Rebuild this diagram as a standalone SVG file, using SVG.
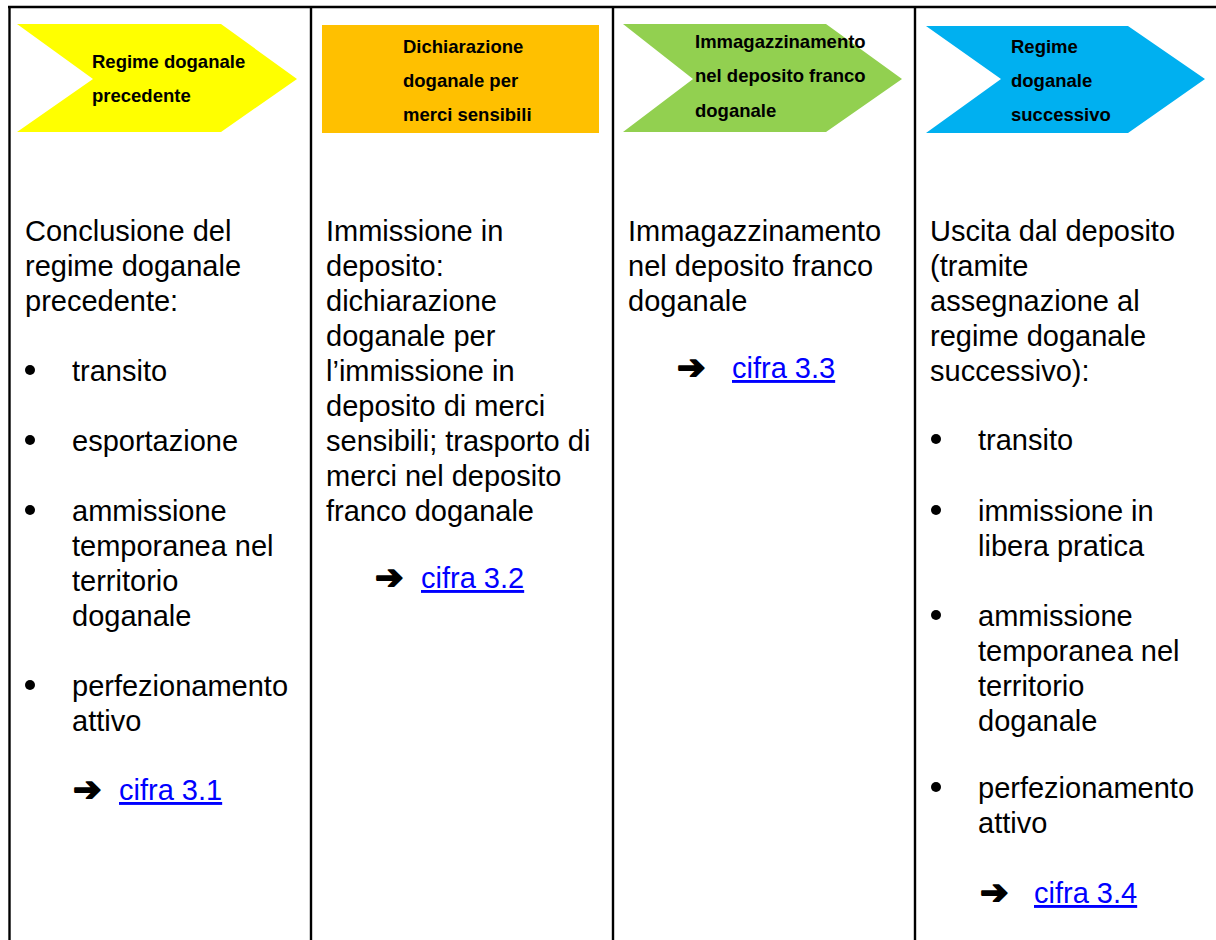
<svg xmlns="http://www.w3.org/2000/svg" width="1216" height="940" viewBox="0 0 1216 940">
<style>
.grid{stroke:#000;stroke-width:2.4;fill:none}
.hd{font-family:"Liberation Sans",Arial,sans-serif;font-weight:bold;font-size:18.5px;fill:#000}
.bd{font-family:"Liberation Sans",Arial,sans-serif;font-size:29px;fill:#000}
.lnk{font-family:"Liberation Sans",Arial,sans-serif;font-size:29px;fill:#0000FF;text-decoration:underline}
.arr{font-family:"DejaVu Sans",sans-serif;font-weight:bold;font-size:34px;fill:#000;stroke:#000;stroke-width:1.6;stroke-linejoin:round}
.bul{fill:#000}
</style>
<rect x="0" y="0" width="1216" height="940" fill="#fff"/>
<g id="grid" class="grid">
<line x1="8" y1="7" x2="1216" y2="7"/>
<line x1="9.5" y1="6" x2="9.5" y2="940"/>
<line x1="311" y1="6" x2="311" y2="940"/>
<line x1="613" y1="6" x2="613" y2="940"/>
<line x1="915" y1="6" x2="915" y2="940"/>
</g>
<g id="col1">
<polygon points="17,24 221,24 297,79 221,132 17,132 93,79" fill="#FFFF00"/>
<text class="hd" x="92" y="68">Regime doganale</text>
<text class="hd" x="92" y="102">precedente</text>
<text class="bd" x="25" y="241">Conclusione del</text>
<text class="bd" x="25" y="276">regime doganale</text>
<text class="bd" x="25" y="311">precedente:</text>
<circle class="bul" cx="30" cy="370" r="5"/>
<text class="bd" x="72" y="381">transito</text>
<circle class="bul" cx="30" cy="440" r="5"/>
<text class="bd" x="72" y="451">esportazione</text>
<circle class="bul" cx="30" cy="510" r="5"/>
<text class="bd" x="72" y="521">ammissione</text>
<text class="bd" x="72" y="556">temporanea nel</text>
<text class="bd" x="72" y="591">territorio</text>
<text class="bd" x="72" y="626">doganale</text>
<circle class="bul" cx="30" cy="685" r="5"/>
<text class="bd" x="72" y="696">perfezionamento</text>
<text class="bd" x="72" y="731">attivo</text>
<text class="arr" x="73" y="801">➔</text>
<text class="lnk" x="119" y="800">cifra 3.1</text>
</g>
<g id="col2">
<rect x="322" y="25" width="277" height="108" fill="#FFC000"/>
<text class="hd" x="403" y="53">Dichiarazione</text>
<text class="hd" x="403" y="87">doganale per</text>
<text class="hd" x="403" y="121">merci sensibili</text>
<text class="bd" x="326" y="241">Immissione in</text>
<text class="bd" x="326" y="276">deposito:</text>
<text class="bd" x="326" y="311">dichiarazione</text>
<text class="bd" x="326" y="346">doganale per</text>
<text class="bd" x="326" y="381">l’immissione in</text>
<text class="bd" x="326" y="416">deposito di merci</text>
<text class="bd" x="326" y="451">sensibili; trasporto di</text>
<text class="bd" x="326" y="486">merci nel deposito</text>
<text class="bd" x="326" y="521">franco doganale</text>
<text class="arr" x="375" y="589">➔</text>
<text class="lnk" x="421" y="588">cifra 3.2</text>
</g>
<g id="col3">
<polygon points="623,24 826,24 902,79 826,132 623,132 693,79" fill="#92D050"/>
<text class="hd" x="695" y="48">Immagazzinamento</text>
<text class="hd" x="695" y="82">nel deposito franco</text>
<text class="hd" x="695" y="117">doganale</text>
<text class="bd" x="628" y="241">Immagazzinamento</text>
<text class="bd" x="628" y="276">nel deposito franco</text>
<text class="bd" x="628" y="311">doganale</text>
<text class="arr" x="677" y="379">➔</text>
<text class="lnk" x="732" y="378">cifra 3.3</text>
</g>
<g id="col4">
<polygon points="926,26 1128,26 1205,79 1128,133 926,133 1001,79" fill="#00B0F0"/>
<text class="hd" x="1011" y="53">Regime</text>
<text class="hd" x="1011" y="87">doganale</text>
<text class="hd" x="1011" y="121">successivo</text>
<text class="bd" x="930" y="241">Uscita dal deposito</text>
<text class="bd" x="930" y="276">(tramite</text>
<text class="bd" x="930" y="311">assegnazione al</text>
<text class="bd" x="930" y="346">regime doganale</text>
<text class="bd" x="930" y="381">successivo):</text>
<circle class="bul" cx="936" cy="439" r="5"/>
<text class="bd" x="978" y="450">transito</text>
<circle class="bul" cx="936" cy="510" r="5"/>
<text class="bd" x="978" y="521">immissione in</text>
<text class="bd" x="978" y="556">libera pratica</text>
<circle class="bul" cx="936" cy="615" r="5"/>
<text class="bd" x="978" y="626">ammissione</text>
<text class="bd" x="978" y="661">temporanea nel</text>
<text class="bd" x="978" y="696">territorio</text>
<text class="bd" x="978" y="731">doganale</text>
<circle class="bul" cx="936" cy="787" r="5"/>
<text class="bd" x="978" y="798">perfezionamento</text>
<text class="bd" x="978" y="833">attivo</text>
<text class="arr" x="980" y="904">➔</text>
<text class="lnk" x="1034" y="903">cifra 3.4</text>
</g>
</svg>
